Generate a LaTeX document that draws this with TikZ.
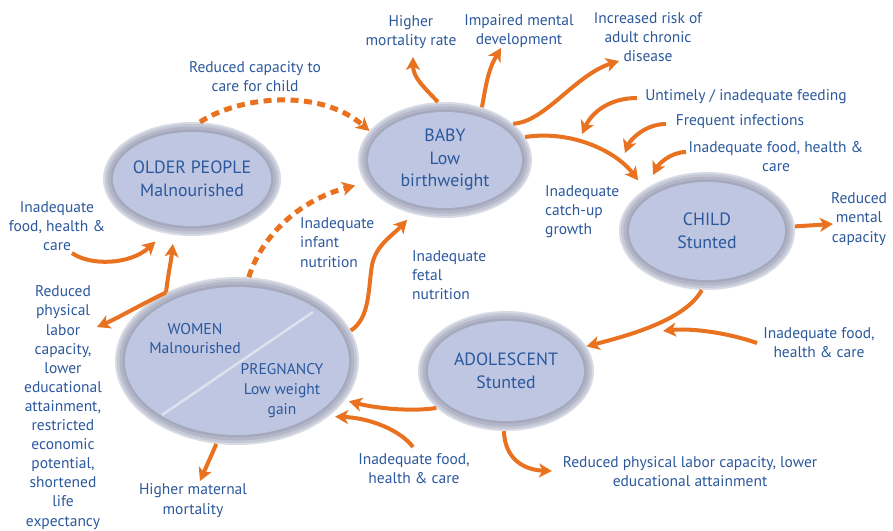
\documentclass[tikz,border=0pt]{standalone}
\usepackage{fontspec}
\setmainfont{PT Sans}
\usetikzlibrary{arrows.meta,shapes.geometric}
\definecolor{org}{RGB}{233,114,33}
\definecolor{txtb}{RGB}{43,88,156}
\definecolor{efill}{RGB}{190,198,226}
\definecolor{ringa}{RGB}{216,218,228}
\definecolor{ringb}{RGB}{196,199,214}
\definecolor{ringc}{RGB}{178,182,199}
\definecolor{ringd}{RGB}{164,169,188}
\definecolor{diagc}{RGB}{222,226,238}
\newcommand\ellbg[3]{%
  \fill[ringa] #1 ellipse ({#2*1pt} and {#3*1pt});
  \fill[ringb] #1 ellipse ({(#2-2)*1pt} and {(#3-2)*1pt});
  \fill[ringc] #1 ellipse ({(#2-4.5)*1pt} and {(#3-4.5)*1pt});
  \fill[ringd] #1 ellipse ({(#2-7.5)*1pt} and {(#3-7.5)*1pt});
  \fill[efill] #1 ellipse ({(#2-10)*1pt} and {(#3-10)*1pt});
}
\tikzset{
  elltext/.style={shape=ellipse, inner sep=0pt, text=txtb, align=center,
    font=\fontsize{17.8}{22.5}\selectfont},
  lbl/.style={text=txtb, align=center, inner sep=0pt,
    font=\fontsize{15.5}{19.2}\selectfont},
  lbll/.style={lbl, align=left, anchor=west},
  arr/.style={draw=org, line width=4pt,
    -{Stealth[length=13pt,width=14pt,inset=3.5pt]}},
  dasharr/.style={arr, line width=5pt, dash pattern=on 8pt off 5.5pt},
}
\begin{document}
\begin{tikzpicture}[x=1pt,y=-1pt]
\useasboundingbox (0,0) rectangle (893,530);
% ellipse backgrounds
\ellbg{(192,179)}{89}{57}
\ellbg{(445,160)}{87}{58}
\ellbg{(707,231)}{88}{59}
\ellbg{(506,371)}{88}{60}
\ellbg{(237,361)}{122}{84}
% ellipse nodes
\node[elltext, minimum width=178pt, minimum height=114pt] (older) at (192,179) {OLDER PEOPLE\\Malnourished};
\node[elltext, minimum width=174pt, minimum height=116pt] (baby) at (445,160) {BABY\\Low\\birthweight};
\node[elltext, minimum width=176pt, minimum height=118pt] (child) at (707,231) {CHILD\\Stunted};
\node[elltext, minimum width=176pt, minimum height=120pt] (adol) at (506,371) {ADOLESCENT\\Stunted};
\node[elltext, minimum width=244pt, minimum height=168pt] (women) at (237,361) {};
\draw[diagc, line width=2.5pt] (162,415) coordinate (dg1) -- (313,312) coordinate (dg2);
\node[elltext, font=\fontsize{15.7}{19.5}\selectfont] (womtxt) at (195,338.5) {WOMEN\\Malnourished};
\node[elltext, font=\fontsize{15.5}{20}\selectfont] (pregtxt) at (282,391) {PREGNANCY\\Low weight\\gain};
% labels
\node[lbl] (mort) at (411,32) {Higher\\mortality rate};
\node[lbl] (impair) at (519,31) {Impaired mental\\development};
\node[lbl] (risk) at (648,37) {Increased risk of\\adult chronic\\disease};
\node[lbl] (redcap) at (255,77) {Reduced capacity to\\care for child};
\node[lbl] (untimely) at (746,97) {Untimely / inadequate feeding};
\node[lbl] (freq) at (740,122) {Frequent infections};
\node[lbl] (inadtop) at (776,156.5) {Inadequate food, health \&\\care};
\node[lbll] (catchup) at (545,212) {Inadequate\\catch-up\\growth};
\node[lbl] (redmental) at (859,219) {Reduced\\mental\\capacity};
\node[lbl] (inadleft) at (57,226) {Inadequate\\food, health \&\\care};
\node[lbl, font=\fontsize{15.5}{19.1}\selectfont] (redphysl) at (63,407.5) {Reduced\\physical\\labor\\capacity,\\lower\\educational\\attainment,\\restricted\\economic\\potential,\\shortened\\life\\expectancy};
\node[lbll] (infant) at (300,242.5) {Inadequate\\infant\\nutrition};
\node[lbll] (fetal) at (412,275) {Inadequate\\fetal\\nutrition};
\node[lbl] (inadright) at (819,342.5) {Inadequate food,\\health \& care};
\node[lbl] (inadbot) at (414,468.5) {Inadequate food,\\health \& care};
\node[lbl] (matmort) at (193,500.5) {Higher maternal\\mortality};
\node[lbl, font=\fontsize{15.5}{18.5}\selectfont] (redphysb) at (690,471.5) {Reduced physical labor capacity, lower\\educational attainment};
% free-end coordinates
\coordinate (t1) at (413,57);
\coordinate (t2) at (501,48);
\coordinate (t3) at (619,61);
\coordinate (s5) at (637,98);  \coordinate (t5) at (582,134);
\coordinate (s6) at (666,124); \coordinate (t6) at (625,153);
\coordinate (s7) at (686,152); \coordinate (t7) at (653,175);
\coordinate (t8) at (833,224);
\coordinate (s10) at (757,343); \coordinate (t10) at (663,331);
\coordinate (s12) at (413,447);
\coordinate (t13) at (552,471);
\coordinate (t14) at (200,481);
\coordinate (t17) at (97,327);
\coordinate (s18) at (72,253);
% connectors
\draw[arr] (baby.97) .. controls (425,88) and (413,78) .. (t1);
\draw[arr] (baby.55) .. controls (486,85) and (488,70) .. (t2);
\draw[arr] (baby.28) .. controls (545,122) and (575,75) .. (t3);
\draw[arr, shorten >=11pt] (baby.16) .. controls (570,130) and (615,150) .. (child.146);
\draw[arr] (s5) .. controls (610,98) and (592,112) .. (t5);
\draw[arr] (s6) .. controls (645,124) and (630,140) .. (t6);
\draw[arr] (s7) .. controls (670,152) and (658,165) .. (t7);
\draw[arr] (child.3) -- (t8);
\draw[arr] (child.265) .. controls (685,320) and (630,335) .. (adol.17);
\draw[arr] (s10) .. controls (725,332) and (690,328) .. (t10);
\draw[arr, shorten >=4pt] (adol.208) .. controls (410,412) and (375,408) .. (women.-20);
\draw[arr, shorten >=6pt] (s12) .. controls (400,430) and (370,418) .. (women.-31);
\draw[arr] (adol.268) .. controls (505,460) and (525,470) .. (t13);
\draw[arr] (women.-104) -- (t14);
\draw[arr, shorten >=8pt] (women.15) .. controls (370,318) and (368,290) .. (372,265) .. controls (376,245) and (392,236) .. (baby.-121);
\draw[arr, shorten >=9pt] (women.136) .. controls (168,275) and (171,262) .. (older.-108);
\draw[arr] (women.136) .. controls (140,305) and (118,318) .. (t17);
\draw[arr, shorten >=12pt] (s18) .. controls (90,266) and (130,265) .. (older.-117);
\draw[dasharr] (older.82) .. controls (240,96) and (320,88) .. (baby.159);
\draw[dasharr, shorten >=10pt] (women.82) .. controls (262,235) and (300,200) .. (baby.196);
\end{tikzpicture}
\end{document}
